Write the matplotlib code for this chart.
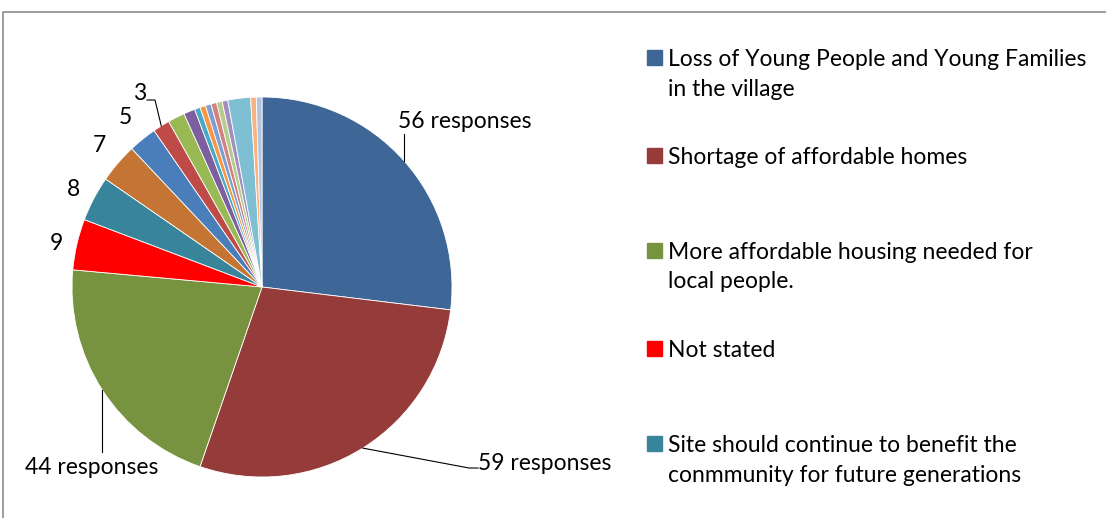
import numpy as np
import matplotlib
matplotlib.use('Agg')
import matplotlib.pyplot as plt

# responses per reason, in the order they go round the pie (clockwise from 12 o'clock)
responses = [56, 59, 44, 9, 8, 7, 5, 3, 3, 2, 1, 1, 1, 1, 1, 1, 4, 1, 1]
slice_colors = ['#3e6797', '#953b3a', '#78933f', '#ff0000', '#38849a', '#c47533',
                '#4a7ebb', '#be4b48', '#98b954', '#7d5fa0', '#46aac4', '#f79646',
                '#7f9fd0', '#d08380', '#b5cc8a', '#a28fbf', '#7fbfd3', '#fab380',
                '#b6c3dc']
legend_names = ['Loss of Young People and Young Families\nin the village',
                'Shortage of affordable homes',
                'More affordable housing needed for\nlocal people.',
                'Not stated',
                'Site should continue to benefit the\nconmmunity for future generations']
value_labels = ['56 responses', '59 responses', '44 responses', '9', '8', '7', '5', '3']

plt.rcParams['font.family'] = ['Lato', 'DejaVu Sans']
W, H = 1106, 518
fig = plt.figure(figsize=(W / 100, H / 100), dpi=100)
ax = fig.add_axes([0, 0, 1, 1])

cx, cy, r = 262, H - 287, 190
wedges, _ = ax.pie(responses, colors=slice_colors, startangle=90, counterclock=False,
                   center=(cx, cy), radius=r,
                   wedgeprops=dict(linewidth=0.6, edgecolor='white'))
ax.set_xlim(0, W)
ax.set_ylim(0, H)
ax.set_aspect('equal')
ax.axis('off')

# chart frame (top and left edges visible)
ax.plot([3, 3, W + 5], [-5, H - 12, H - 12], color='#8c8c8c', lw=1.2, clip_on=False)

def rim(w):
    a = np.deg2rad((w.theta1 + w.theta2) / 2)
    return cx + r * np.cos(a), cy + r * np.sin(a)

fs = 16.5
# data labels with leader lines
x0, y0 = rim(wedges[0])
ax.plot([x0, x0], [y0, H - 134], color='black', lw=0.8)
ax.text(398, H - 122, value_labels[0], fontsize=fs, ha='left', va='center')

x1, y1 = rim(wedges[1])
ax.plot([x1, 469, 478], [y1, H - 468, H - 468], color='black', lw=0.8)
ax.text(478, H - 463, value_labels[1], fontsize=fs, ha='left', va='center')

x2, y2 = rim(wedges[2])
ax.plot([x2, x2], [y2, H - 452], color='black', lw=0.8)
ax.text(25, H - 468, value_labels[2], fontsize=fs, ha='left', va='center')

small_pos = [(56, 243), (74, 189), (99, 145), (125, 118)]
for lab, (tx, ty) in zip(value_labels[3:7], small_pos):
    ax.text(tx, H - ty, lab, fontsize=fs, ha='center', va='center')

x7, y7 = rim(wedges[7])
ax.plot([x7, 155, 147], [y7, H - 100, H - 100], color='black', lw=0.8)
ax.text(140, H - 93, value_labels[7], fontsize=fs, ha='center', va='center')

# legend
legend_y = [57, 155, 250, 348, 443]
for name, col, ly in zip(legend_names, slice_colors, legend_y):
    ax.add_patch(plt.Rectangle((647, H - ly - 7.5), 15, 15, color=col))
    ax.text(668, H - ly + 8, name, fontsize=fs, ha='left', va='top',
            linespacing=1.5)

fig.savefig('out.png', dpi=100)
